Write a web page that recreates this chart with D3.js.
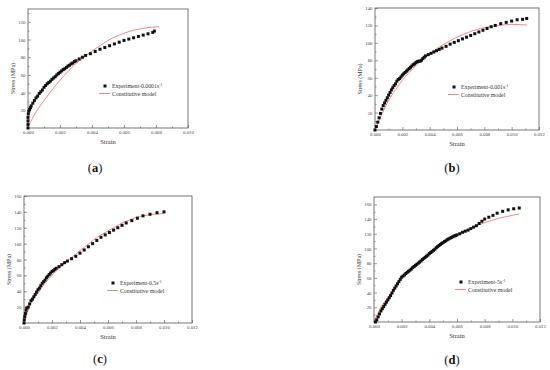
<!DOCTYPE html>
<html>
<head>
<meta charset="utf-8">
<script src="https://cdn.jsdelivr.net/npm/d3@7"></script>
<style>
  body { margin: 0; background: #fff; }
  svg { display: block; font-family: "Liberation Serif", "DejaVu Serif", serif; }
</style>
</head>
<body>
<svg id="chart" width="550" height="370"></svg>
<script>
// ---- data (strain, stress MPa) ----
const expA = [[0,0],[0,4],[0,8],[0,12],[0.00002,16],[0.00005,19],[0.0001,21],[0.00015,23],[0.0002,25],[0.0003,28],[0.0004,31],[0.0005,34],[0.0006,36],[0.0007,39],[0.0008,41],[0.0009,43],[0.001,46],[0.0011,48],[0.0012,50],[0.0013,51.5],[0.0014,53],[0.0015,55],[0.0016,56.5],[0.0017,58],[0.0018,60],[0.0019,61.5],[0.002,63],[0.0021,64.5],[0.0022,66],[0.0023,67],[0.0024,68.5],[0.0025,70],[0.0026,71],[0.0027,72.5],[0.0028,73.5],[0.0029,75],[0.003,76],[0.0032,78],[0.0034,80],[0.0036,82],[0.0039,84],[0.0042,86.5],[0.0045,89],[0.0048,91],[0.0051,93],[0.0054,95],[0.0057,97],[0.006,99],[0.0063,100.5],[0.0066,102],[0.0069,103.5],[0.0072,105],[0.0075,106.5],[0.0078,108],[0.0079,109.5]];
const modelA = [[0.00003,2],[0.0005,18],[0.001,31],[0.0015,43],[0.002,54],[0.0025,64],[0.003,73],[0.0035,80],[0.004,87],[0.0045,93],[0.005,99],[0.0055,103.5],[0.006,107],[0.0065,110],[0.007,112],[0.0075,113.5],[0.008,114.3],[0.0082,114.5]];

const expB = [[0,0],[0.0001,4],[0.0002,9],[0.0003,14],[0.0004,19],[0.0005,24],[0.0006,28],[0.0007,31],[0.0008,34],[0.0009,37],[0.001,40],[0.0011,43],[0.0012,46],[0.0013,48.5],[0.0014,51],[0.0015,53],[0.0016,56],[0.0017,58],[0.0018,59],[0.0019,61],[0.002,63],[0.0021,64.5],[0.0022,66],[0.0023,67.5],[0.0024,69],[0.0025,70.5],[0.0026,72],[0.0027,73.5],[0.0028,75],[0.0029,76],[0.003,77.5],[0.0031,78.5],[0.0032,79],[0.0033,79],[0.0034,80],[0.0035,82],[0.0036,83.5],[0.0037,85],[0.0039,86.5],[0.0041,88],[0.0043,89.5],[0.0045,91],[0.0047,92.5],[0.0049,94],[0.0052,96],[0.0055,98.5],[0.0058,100.5],[0.0061,102.5],[0.0064,104.5],[0.0067,106.5],[0.007,108.5],[0.0073,110.5],[0.0076,112.5],[0.0079,114.5],[0.0082,116.5],[0.0085,118.5],[0.0088,120],[0.0092,122],[0.0096,123.5],[0.01,125],[0.0104,126.5],[0.0108,127],[0.0111,128]];
const modelB = [[0,0],[0.0005,18],[0.001,34],[0.0015,46],[0.002,57],[0.0025,66],[0.003,74],[0.0035,81],[0.004,87],[0.0045,93],[0.005,98],[0.0055,102.5],[0.006,106.5],[0.0065,110],[0.007,113],[0.0075,115.5],[0.008,117.5],[0.0085,119],[0.009,120],[0.0095,120.8],[0.01,121.2],[0.0105,121],[0.0111,120.5]];

const expC = [[0,0],[0.00002,4],[0.00005,8],[0.0001,12],[0.00015,16],[0.0002,19],[0.0003,20],[0.0004,24],[0.0005,28],[0.0006,30],[0.0007,33],[0.0008,36],[0.0009,39],[0.001,42],[0.0011,44],[0.0012,47],[0.0013,50],[0.0014,52],[0.0015,54],[0.0016,57],[0.0017,59],[0.0018,61],[0.0019,63],[0.002,65],[0.0021,66],[0.0022,67.5],[0.0023,69],[0.0025,71],[0.0027,73.5],[0.0029,76],[0.0031,78],[0.0034,81],[0.0037,84],[0.004,88],[0.0043,92],[0.0046,96],[0.0049,100],[0.0052,104],[0.0055,108],[0.0058,111],[0.0061,114],[0.0064,117],[0.0067,120],[0.007,123],[0.0073,126],[0.0077,129],[0.0081,132],[0.0085,135],[0.009,137],[0.0095,139],[0.01,140]];
const modelC = [[0,0],[0.0005,25],[0.001,38],[0.0015,50],[0.002,60],[0.0025,69],[0.003,77],[0.0035,84],[0.004,91],[0.0045,98],[0.005,105],[0.0055,111],[0.006,116],[0.0065,121],[0.007,126],[0.0075,129.5],[0.008,133],[0.0085,135],[0.009,136.5],[0.0095,137.3],[0.01,138]];

const expD = [[0.0001,0],[0.0002,3],[0.0003,7],[0.0004,11],[0.0005,15],[0.0006,18],[0.0007,21],[0.0008,24],[0.0009,27],[0.001,30],[0.0011,33],[0.0012,36],[0.0013,39.5],[0.0014,43],[0.0015,46],[0.0016,49],[0.0017,52],[0.0018,55],[0.0019,58],[0.002,61],[0.0021,62.5],[0.0022,64],[0.0023,66],[0.0024,67.5],[0.0025,69],[0.0026,70.5],[0.0027,72],[0.0028,74],[0.0029,75.5],[0.003,77],[0.0031,78.5],[0.0032,80],[0.0033,81.5],[0.0034,83],[0.0035,85],[0.0036,86.5],[0.0037,88],[0.0038,89.5],[0.0039,91],[0.004,93],[0.0041,94.5],[0.0042,96],[0.0043,97.5],[0.0044,99],[0.0045,101],[0.0046,102.5],[0.0047,104],[0.0048,105.5],[0.0049,107],[0.005,108],[0.0051,109.5],[0.0052,110.5],[0.0053,112],[0.0054,113],[0.0055,114],[0.0056,115],[0.0057,116],[0.0058,117],[0.0059,117.5],[0.006,118.5],[0.0062,120],[0.0064,122],[0.0066,123.5],[0.0068,125],[0.007,127],[0.0072,129],[0.0074,131],[0.0076,134],[0.0078,137],[0.008,140],[0.0083,142.5],[0.0086,145],[0.0089,148],[0.0093,150.5],[0.0097,152.5],[0.0101,154],[0.0105,155]];
const modelD = [[0,0],[0.0005,20],[0.001,33],[0.0015,47],[0.002,61],[0.0025,69.5],[0.003,77.5],[0.0035,85.5],[0.004,93.5],[0.0045,101],[0.005,108],[0.0055,114],[0.006,119],[0.0065,123.5],[0.007,127.5],[0.0075,131.5],[0.008,135],[0.0085,138],[0.009,141],[0.0095,143],[0.01,145],[0.0105,147]];

const xTicks10 = [0, 0.002, 0.004, 0.006, 0.008, 0.010];
const xTicks12 = [0, 0.002, 0.004, 0.006, 0.008, 0.010, 0.012];
const yTicks120 = [20, 40, 60, 80, 100, 120];
const yTicks140 = [20, 40, 60, 80, 100, 120, 140];
const yTicks160 = [20, 40, 60, 80, 100, 120, 140, 160];
const rates = ["0.0001", "0.001", "0.5", "5"];
const panelLetters = ["a", "b", "c", "d"];

const svg = d3.select('#chart');

function drawPanel(p) {
  const x = d3.scaleLinear().domain([0, p.xMax]).range([p.left, p.right]);
  const y = d3.scaleLinear().domain([0, p.yMax]).range([p.bottom, p.top]);
  const g = svg.append('g');

  // minor ticks
  const xMinor = d3.range(0.001, p.xMax, 0.002);
  const yMinor = d3.range(10, p.yMax, 20);
  g.append('g')
    .attr('transform', `translate(0,${p.bottom})`)
    .call(d3.axisBottom(x).tickValues(xMinor).tickSize(-1.5).tickFormat(''))
    .call(s => s.select('.domain').remove());
  g.append('g')
    .attr('transform', `translate(${p.left},0)`)
    .call(d3.axisLeft(y).tickValues(yMinor).tickSize(-1.5).tickFormat(''))
    .call(s => s.select('.domain').remove());

  // major ticks
  g.append('g')
    .attr('transform', `translate(0,${p.bottom})`)
    .call(d3.axisBottom(x).tickValues(p.xTicks).tickSize(-3).tickPadding(3).tickFormat(d3.format('.3f')))
    .call(s => s.select('.domain').remove());
  g.append('g')
    .attr('transform', `translate(${p.left},0)`)
    .call(d3.axisLeft(y).tickValues(p.yTicks).tickSize(-3).tickPadding(2.5).tickFormat(d3.format('d')))
    .call(s => s.select('.domain').remove());

  g.selectAll('.tick line').attr('stroke', '#555').attr('stroke-width', 0.6);
  g.selectAll('.tick text').attr('font-size', 4.8).attr('fill', '#444')
    .attr('font-family', '"Liberation Serif", serif');

  // frame
  g.append('rect')
    .attr('x', p.left).attr('y', p.top)
    .attr('width', p.right - p.left).attr('height', p.bottom - p.top)
    .attr('fill', 'none').attr('stroke', '#555').attr('stroke-width', 0.8);

  // model line
  const line = d3.line().x(d => x(d[0])).y(d => y(d[1])).curve(d3.curveMonotoneX);
  g.append('path')
    .datum(p.model)
    .attr('d', line)
    .attr('fill', 'none')
    .attr('stroke', '#f46a6a')
    .attr('stroke-width', 0.8);

  // experiment markers
  const sz = 3;
  g.selectAll('rect.pt')
    .data(p.exp)
    .enter()
    .append('rect')
    .classed('pt', true)
    .attr('x', d => x(d[0]) - sz / 2)
    .attr('y', d => y(d[1]) - sz / 2)
    .attr('width', sz)
    .attr('height', sz)
    .attr('fill', '#111');

  // axis titles
  g.append('text')
    .attr('x', (p.left + p.right) / 2)
    .attr('y', p.bottom + 16)
    .attr('text-anchor', 'middle')
    .attr('font-size', 6.5).attr('fill', '#333')
    .text('Strain');
  g.append('text')
    .attr('transform', `translate(${p.left - 13},${(p.top + p.bottom) / 2 + 10}) rotate(-90)`)
    .attr('text-anchor', 'middle')
    .attr('font-size', 6).attr('fill', '#333')
    .text('Stress (MPa)');

  // legend
  g.append('rect')
    .attr('x', p.legX + 6 - sz / 2).attr('y', p.legY - sz / 2)
    .attr('width', sz).attr('height', sz).attr('fill', '#111');
  const t1 = g.append('text')
    .attr('x', p.legX + 13).attr('y', p.legY + 2)
    .attr('font-size', 5.8).attr('fill', '#333');
  t1.append('tspan').text(`Experiment-${p.rate}s`);
  t1.append('tspan').attr('font-size', 3.8).attr('dy', -2.2).text('-1');
  g.append('line')
    .attr('x1', p.legX).attr('x2', p.legX + 11)
    .attr('y1', p.legY + 7.5).attr('y2', p.legY + 7.5)
    .attr('stroke', '#f46a6a').attr('stroke-width', 0.8);
  g.append('text')
    .attr('x', p.legX + 13).attr('y', p.legY + 9.5)
    .attr('font-size', 5.8).attr('fill', '#333')
    .text('Constitutive model');

  // panel label
  const lab = svg.append('text')
    .attr('x', p.labX).attr('y', p.labY)
    .attr('text-anchor', 'middle')
    .attr('font-size', 12.5).attr('fill', '#111');
  lab.append('tspan').text('(');
  lab.append('tspan').attr('font-weight', 'bold').text(p.letter);
  lab.append('tspan').text(')');
}

drawPanel({ left: 28, right: 188, top: 9, bottom: 128, xMax: 0.010, yMax: 134.5,
  xTicks: xTicks10, yTicks: yTicks120, exp: expA, model: modelA,
  rate: rates[0], legX: 99, legY: 86, labX: 95, labY: 172, letter: panelLetters[0] });
drawPanel({ left: 375, right: 539, top: 8, bottom: 130, xMax: 0.012, yMax: 140,
  xTicks: xTicks12, yTicks: yTicks140, exp: expB, model: modelB,
  rate: rates[1], legX: 448, legY: 87, labX: 452, labY: 172, letter: panelLetters[1] });
drawPanel({ left: 24, right: 192, top: 196, bottom: 323, xMax: 0.012, yMax: 160,
  xTicks: xTicks12, yTicks: yTicks160, exp: expC, model: modelC,
  rate: rates[2], legX: 107, legY: 283, labX: 100, labY: 363, letter: panelLetters[2] });
drawPanel({ left: 374, right: 540, top: 197, bottom: 322, xMax: 0.012, yMax: 170,
  xTicks: xTicks12, yTicks: yTicks160, exp: expD, model: modelD,
  rate: rates[3], legX: 455, legY: 282, labX: 452, labY: 364, letter: panelLetters[3] });
</script>
</body>
</html>
